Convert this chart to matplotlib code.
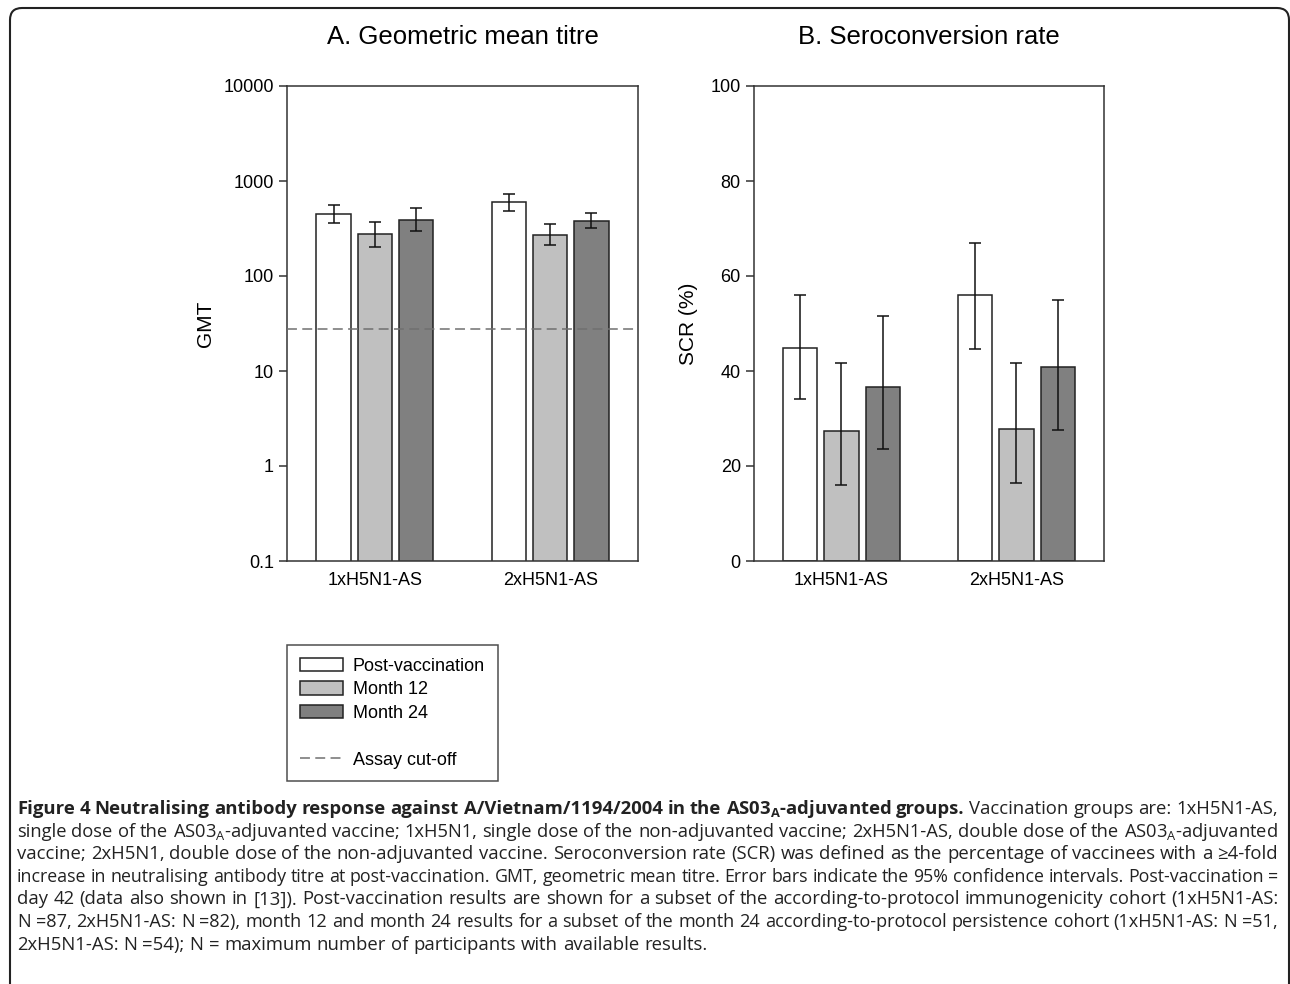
import matplotlib
matplotlib.use("Agg")
import numpy as np
import matplotlib.pyplot as plt
from matplotlib.patches import Patch, FancyBboxPatch
from matplotlib.lines import Line2D
from matplotlib.transforms import IdentityTransform

groups = ["1xH5N1-AS", "2xH5N1-AS"]
series = ["Post-vaccination", "Month 12", "Month 24"]
colors = ["white", "#c0c0c0", "#808080"]

# A. GMT (log scale), rows = series, cols = groups
gmt = [[450, 601], [277, 270], [388, 379]]
gmt_lo = [[361, 483], [202, 212], [298, 320]]
gmt_hi = [[559, 730], [370, 353], [520, 461]]
cutoff = 28

# B. seroconversion rate (%)
scr = [[44.8, 56.1], [27.4, 27.7], [36.7, 40.8]]
scr_lo = [[34.1, 44.6], [15.9, 16.4], [23.5, 27.6]]
scr_hi = [[55.9, 67.0], [41.7, 41.6], [51.6, 54.9]]

caption = [
    [("Figure 4 Neutralising antibody response against A/Vietnam/1194/2004 in the AS03$_\\mathbf{A}$-adjuvanted groups.", True),
     ("Vaccination groups are: 1xH5N1-AS,", False)],
    [("single dose of the AS03$_\\mathrm{A}$-adjuvanted vaccine; 1xH5N1, single dose of the non-adjuvanted vaccine; 2xH5N1-AS, double dose of the AS03$_\\mathrm{A}$-adjuvanted", False)],
    [("vaccine; 2xH5N1, double dose of the non-adjuvanted vaccine. Seroconversion rate (SCR) was defined as the percentage of vaccinees with a \u22654-fold", False)],
    [("increase in neutralising antibody titre at post-vaccination. GMT, geometric mean titre. Error bars indicate the 95% confidence intervals. Post-vaccination =", False)],
    [("day 42 (data also shown in [13]). Post-vaccination results are shown for a subset of the according-to-protocol immunogenicity cohort (1xH5N1-AS:", False)],
    [("N =87, 2xH5N1-AS: N =82), month 12 and month 24 results for a subset of the month 24 according-to-protocol persistence cohort (1xH5N1-AS: N =51,", False)],
    [("2xH5N1-AS: N =54); N = maximum number of participants with available results.", False)],
]

plt.rcParams["font.family"] = ["Liberation Sans", "DejaVu Sans"]
plt.rcParams["mathtext.fontset"] = "custom"
plt.rcParams["mathtext.rm"] = "Open Sans"
plt.rcParams["mathtext.bf"] = "Open Sans:bold"

W, H = 1290, 984
fig = plt.figure(figsize=(W / 100, H / 100), dpi=100)

spine_c = "#333333"
edge_c = "#222222"
x = np.arange(len(groups))
offs = [-0.235, 0, 0.235]
bw = 0.195


def style_axes(ax):
    for s in ax.spines.values():
        s.set_color(spine_c)
        s.set_linewidth(1.1)
    ax.tick_params(axis="y", direction="out", length=5.5, width=1.1, color=spine_c,
                   labelsize=13, pad=4)
    ax.tick_params(axis="x", length=0, labelsize=13, pad=8)
    ax.set_xlim(-0.5, 1.5)
    ax.set_xticks(x)
    ax.set_xticklabels(groups)


def draw_bars(ax, vals, lo, hi):
    for i in range(len(series)):
        v = np.array(vals[i])
        err = [v - np.array(lo[i]), np.array(hi[i]) - v]
        ax.bar(x + offs[i], v, bw, color=colors[i], edgecolor=edge_c, linewidth=1.1,
               zorder=2)
        ax.errorbar(x + offs[i], v, yerr=err, fmt="none", ecolor="#111111",
                    elinewidth=1.1, capsize=4.5, capthick=1.1, zorder=3)


# panel A
axA = fig.add_axes([287 / W, 1 - 561 / H, 351 / W, 475 / H])
axA.set_yscale("log")
draw_bars(axA, gmt, gmt_lo, gmt_hi)
axA.axhline(cutoff, color="#707070", linewidth=1.1, dashes=(6.5, 3.5), zorder=4)
axA.set_ylim(0.1, 10000)
axA.set_yticks([0.1, 1, 10, 100, 1000, 10000])
axA.set_yticklabels(["0.1", "1", "10", "100", "1000", "10000"])
axA.yaxis.set_minor_locator(matplotlib.ticker.NullLocator())
style_axes(axA)
axA.set_ylabel("GMT", fontsize=15)
axA.yaxis.set_label_coords(-0.205, 0.5)

# panel B
axB = fig.add_axes([754 / W, 1 - 561 / H, 350 / W, 475 / H])
draw_bars(axB, scr, scr_lo, scr_hi)
axB.set_ylim(0, 100)
axB.set_yticks([0, 20, 40, 60, 80, 100])
style_axes(axB)
axB.set_ylabel("SCR (%)", fontsize=15)
axB.yaxis.set_label_coords(-0.16, 0.5)

fig.text(462.5 / W, 1 - 37 / H, "A. Geometric mean titre", fontsize=18.5,
         ha="center", va="center")
fig.text(929 / W, 1 - 37 / H, "B. Seroconversion rate", fontsize=18.5,
         ha="center", va="center")

# legend
handles = [Patch(facecolor=c, edgecolor=edge_c, linewidth=1.1) for c in colors]
handles.append(Line2D([], [], color="none"))
handles.append(Line2D([], [], color="#707070", linewidth=1.1, dashes=(6.5, 3.5)))
labels = series + ["", "Assay cut-off"]
leg = fig.legend(handles, labels, loc="upper left",
                 bbox_to_anchor=(287 / W, 1 - 645 / H), borderaxespad=0,
                 fontsize=13, frameon=True, fancybox=False, edgecolor="#222222",
                 handlelength=2.4, handleheight=0.8, handletextpad=0.55,
                 labelspacing=0.35, borderpad=0.7)
leg.get_frame().set_linewidth(1.1)

# outer rounded border
border = FancyBboxPatch((10, -40), 1279, H - 8 + 40, boxstyle="round,pad=0,rounding_size=12",
                        transform=IdentityTransform(), facecolor="none",
                        edgecolor="#222222", linewidth=1.5)
fig.patches.append(border)

# caption, justified word by word
cap_fs = 13.3
cap_font = ["Open Sans", "DejaVu Sans"]
x0, x1 = 17, 1278
renderer = fig.canvas.get_renderer()
for li, segs in enumerate(caption):
    words = []
    for txt, bold in segs:
        for w in txt.split():
            words.append((w, bold))
    ybase = H - (814 + 22.6 * li)
    arts = [fig.text(0, ybase, w, fontsize=cap_fs, family=cap_font,
                     fontweight="bold" if b else "normal", color="#222222",
                     transform=IdentityTransform(), va="baseline", ha="left")
            for w, b in words]
    fs = cap_fs
    last = li == len(caption) - 1
    while True:
        widths = [a.get_window_extent(renderer).width for a in arts]
        min_gap = 0.24 * fs * 100 / 72
        if last:
            gap = 0.27 * fs * 100 / 72
            break
        gap = (x1 - x0 - sum(widths)) / (len(arts) - 1)
        if gap >= min_gap:
            break
        fs -= 0.1
        for a in arts:
            a.set_fontsize(fs)
    pos = x0
    for a, w in zip(arts, widths):
        a.set_x(pos)
        pos += w + gap

fig.savefig("out.png", dpi=100)
